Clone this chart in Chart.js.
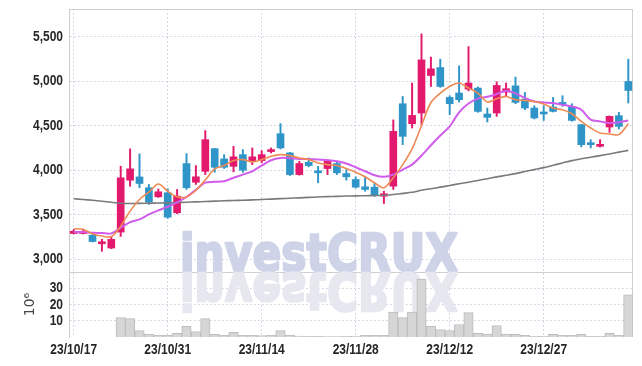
<!DOCTYPE html>
<html>
<head>
<meta charset="utf-8">
<script src="https://cdn.jsdelivr.net/npm/chart.js@4.4.0/dist/chart.umd.min.js"></script>
<style>
html, body { margin: 0; padding: 0; background: #fff; }
#wrap { width: 642px; height: 366px; }
</style>
</head>
<body>
<div id="wrap"><canvas id="myChart"></canvas></div>
<script>
const dates = [
	'23/10/17', '23/10/18', '23/10/19', '23/10/20', '23/10/23', '23/10/24', '23/10/25', '23/10/26', '23/10/27', '23/10/30',
	'23/10/31', '23/11/01', '23/11/02', '23/11/03', '23/11/06', '23/11/07', '23/11/08', '23/11/09', '23/11/10', '23/11/13',
	'23/11/14', '23/11/15', '23/11/16', '23/11/17', '23/11/20', '23/11/21', '23/11/22', '23/11/23', '23/11/24', '23/11/27',
	'23/11/28', '23/11/29', '23/11/30', '23/12/01', '23/12/04', '23/12/05', '23/12/06', '23/12/07', '23/12/08', '23/12/11',
	'23/12/12', '23/12/13', '23/12/14', '23/12/15', '23/12/18', '23/12/19', '23/12/20', '23/12/21', '23/12/22', '23/12/26',
	'23/12/27', '23/12/28', '24/01/02', '24/01/03', '24/01/04', '24/01/05', '24/01/08', '24/01/09', '24/01/10', '24/01/11'
]
const open = [
	3290, 3290, 3270, 3175, 3127, 3306, 3888, 3925, 3803, 3702,
	3747, 3523, 4075, 3865, 3988, 4242, 4127, 4044, 4175, 4108,
	4108, 4209, 4410, 4194, 3951, 4089, 3990, 4019, 4075, 3963,
	3896, 3814, 3810, 3709, 3821, 4746, 4522, 4642, 5063, 5152,
	4817, 4866, 4910, 4922, 4631, 4642, 4877, 4947, 4799, 4698,
	4642, 4709, 4761, 4709, 4511, 4306, 4268, 4485, 4612, 4996
]
const high = [
	3335, 3340, 3290, 3225, 3260, 4045, 4240, 4183, 3840, 3790,
	3792, 3784, 4186, 4052, 4444, 4245, 4175, 4268, 4231, 4250,
	4220, 4250, 4522, 4200, 4100, 4138, 4044, 4119, 4100, 4007,
	3926, 3926, 3851, 3765, 4565, 4828, 4978, 5530, 5269, 5246,
	4836, 5171, 5387, 4935, 4698, 4992, 4978, 5045, 4873, 4724,
	4724, 4817, 4836, 4746, 4515, 4343, 4343, 4610, 4649, 5246
]
const low = [
	3285, 3285, 3195, 3090, 3120, 3258, 3820, 3803, 3616, 3695,
	3459, 3512, 3784, 3840, 3951, 3977, 4020, 3982, 3977, 4063,
	4082, 4194, 4239, 3940, 3945, 4038, 3859, 3951, 3951, 3888,
	3800, 3765, 3705, 3627, 3784, 4287, 4474, 4511, 4940, 4930,
	4623, 4765, 4891, 4650, 4541, 4604, 4828, 4746, 4679, 4575,
	4559, 4653, 4716, 4550, 4261, 4250, 4260, 4425, 4463, 4754
]
const close = [
	3315, 3310, 3200, 3182, 3224, 3915, 4015, 3851, 3642, 3758,
	3473, 3709, 3803, 3926, 4343, 4033, 4033, 4150, 4000, 4150,
	4175, 4231, 4250, 3951, 4075, 4052, 3971, 4100, 3971, 3926,
	3810, 3784, 3716, 3736, 4436, 4380, 4615, 5238, 5138, 4940,
	4746, 4791, 4978, 4660, 4593, 4951, 4914, 4761, 4698, 4586,
	4631, 4660, 4735, 4559, 4287, 4287, 4290, 4604, 4492, 4895
]
// 거래량, 백만 주
const volume = [
	0, 0, 0, 0, 0, 11.9, 11.3, 4.0, 1.8, 1.0,
	1.0, 2.2, 6.5, 3.4, 11.3, 1.6, 1.0, 2.8, 1.0, 1.0,
	0.8, 1.0, 4.0, 1.2, 0.6, 0.4, 0.4, 0.3, 0.3, 0.4,
	0.6, 1.0, 1.0, 1.0, 15.4, 11.9, 15.4, 35.6, 6.7, 4.6,
	4.0, 7.7, 15.0, 2.2, 1.8, 7.1, 1.8, 1.6, 1.0, 0.4,
	0.4, 1.6, 1.0, 1.0, 1.6, 0.4, 0.4, 2.2, 1.0, 25.9
]
const ma5 = [
	3344, 3336, 3288, 3261, 3254, 3373, 3541, 3672, 3755, 3845,
	3765, 3702, 3700, 3775, 3890, 4015, 4052, 4108, 4119, 4094,
	4119, 4156, 4175, 4164, 4138, 4119, 4082, 4063, 4052, 4019,
	3977, 3926, 3859, 3803, 3915, 4063, 4240, 4500, 4760, 4866,
	4940, 4978, 4922, 4866, 4765, 4802, 4828, 4791, 4783, 4772,
	4743, 4698, 4679, 4634, 4548, 4474, 4418, 4407, 4399, 4522
]
const ma20 = [
	3306, 3306, 3299, 3295, 3291, 3355, 3418, 3448, 3504, 3550,
	3590, 3640, 3700, 3780, 3860, 3870, 3877, 3915, 3951, 3988,
	4052, 4112, 4138, 4134, 4127, 4127, 4119, 4112, 4100, 4075,
	4033, 3988, 3944, 3926, 3951, 4007, 4063, 4165, 4280, 4390,
	4492, 4650, 4748, 4804, 4825, 4856, 4893, 4862, 4810, 4772,
	4761, 4754, 4735, 4716, 4679, 4567, 4548, 4530, 4537, 4559
]
const ma60 = [
	3680, 3672, 3663, 3652, 3640, 3630, 3627, 3628, 3630, 3632,
	3634, 3637, 3641, 3645, 3649, 3653, 3657, 3660, 3663, 3667,
	3671, 3676, 3681, 3686, 3690, 3695, 3700, 3704, 3707, 3710,
	3712, 3714, 3716, 3720, 3728, 3740, 3752, 3775, 3792, 3810,
	3828, 3848, 3866, 3885, 3905, 3925, 3943, 3962, 3985, 4007,
	4029, 4055, 4082, 4108, 4128, 4146, 4164, 4183, 4203, 4223
]
const priceTicks = [3000, 3500, 4000, 4500, 5000, 5500]
const volumeTicks = [10, 20, 30]

const up = '#e2196c'
const down = '#2f95c8'
const gridColor = '#c9cbdf'
const candleColor = close.map((c, i) => c >= open[i] ? up : down)

// 좁은 굵은 글씨 (가로 압축)
function narrowText(ctx, text, x, y, align, baseline) {
	ctx.save()
	ctx.translate(x, y)
	ctx.scale(0.8, 1)
	ctx.font = 'bold 15px "Liberation Sans", Arial, sans-serif'
	ctx.fillStyle = '#262626'
	ctx.textAlign = align
	ctx.textBaseline = baseline
	ctx.fillText(text, 0, 0)
	ctx.restore()
}

// 워터마크 + 테두리 + 눈금 글씨
const decor = {
	id: 'decor',
	beforeDatasetsDraw(chart) {
		const ctx = chart.ctx
		const a = chart.chartArea
		const sep = chart.scales.y.bottom
		ctx.save()
		ctx.strokeStyle = '#cfcfcf'
		ctx.lineWidth = 1
		ctx.beginPath()
		ctx.moveTo(a.left, a.top + 0.5)
		ctx.lineTo(a.right, a.top + 0.5)
		ctx.moveTo(a.right - 0.5, a.top)
		ctx.lineTo(a.right - 0.5, a.bottom)
		ctx.moveTo(a.left, Math.round(sep) + 0.5)
		ctx.lineTo(a.right, Math.round(sep) + 0.5)
		ctx.stroke()

		ctx.font = 'bold 52px "DejaVu Sans"'
		const w = ctx.measureText('investCRUX').width
		ctx.translate(180, sep - 1)
		ctx.scale(278 / w, 1)
		ctx.textBaseline = 'alphabetic'
		ctx.lineJoin = 'round'
		ctx.lineWidth = 2.5
		ctx.fillStyle = ctx.strokeStyle = '#ced3e8'
		ctx.fillText('investCRUX', 0, 0)
		ctx.strokeText('investCRUX', 0, 0)
		ctx.translate(0, 2)
		ctx.scale(1, -1)
		ctx.fillStyle = ctx.strokeStyle = '#e6e7ef'
		ctx.fillText('investCRUX', 0, 0)
		ctx.strokeText('investCRUX', 0, 0)
		ctx.restore()
	},
	afterDraw(chart) {
		const ctx = chart.ctx
		const sy = chart.scales.y
		const sv = chart.scales.yv
		const sx = chart.scales.x
		sy.ticks.forEach(t => narrowText(ctx, t.value.toLocaleString('en-US'), sy.right - 6, sy.getPixelForValue(t.value), 'right', 'middle'))
		sv.ticks.forEach(t => narrowText(ctx, String(t.value), sv.right - 6, sv.getPixelForValue(t.value), 'right', 'middle'))
		sx.ticks.forEach((t, i) => {
			if (i % 10 === 0) narrowText(ctx, dates[i], sx.getPixelForTick(i), sx.top + 5, 'center', 'top')
		})
	}
}

function getChart() {
	const context = document.getElementById('myChart')
	const data = {
		labels: dates,
		datasets: [
			{
				type: 'line',
				label: 'MA5',
				data: ma5,
				borderColor: '#ee8a55',
				borderWidth: 1.6,
				pointRadius: 0,
				tension: 0.3,
				yAxisID: 'y',
				order: 0,
			},
			{
				type: 'line',
				label: 'MA20',
				data: ma20,
				borderColor: '#d05cec',
				borderWidth: 2,
				pointRadius: 0,
				tension: 0.3,
				yAxisID: 'y',
				order: 0,
			},
			{
				type: 'line',
				label: 'MA60',
				data: ma60,
				borderColor: '#7a7a7a',
				borderWidth: 1.6,
				pointRadius: 0,
				tension: 0.3,
				yAxisID: 'y',
				order: 0,
			},
			{
				type: 'bar',
				label: 'body',
				data: open.map((o, i) => [o, close[i]]),
				backgroundColor: candleColor,
				barThickness: 7,
				minBarLength: 2,
				grouped: false,
				yAxisID: 'y',
				order: 1,
			},
			{
				type: 'bar',
				label: 'wick',
				data: low.map((l, i) => [l, high[i]]),
				backgroundColor: candleColor,
				barThickness: 1.3,
				grouped: false,
				yAxisID: 'y',
				order: 2,
			},
			{
				type: 'bar',
				label: 'volume',
				data: volume,
				backgroundColor: '#d6d6d6',
				borderColor: '#bcbcbc',
				borderWidth: 1,
				barPercentage: 1,
				categoryPercentage: 1,
				grouped: false,
				yAxisID: 'yv',
				order: 3,
			}
		]
	}
	const config = {
		type: 'bar',
		data: data,
		plugins: [decor],
		options: {
			responsive: true,
			maintainAspectRatio: false,
			animation: false,
			layout: { padding: { top: 9, right: 9, left: 0, bottom: 0 } },
			plugins: { legend: { display: false }, tooltip: { enabled: false } },
			scales: {
				x: {
					type: 'category',
					offset: true,
					grid: {
						offset: false,
						drawTicks: false,
						color: c => c.index % 10 === 0 ? gridColor : 'transparent',
					},
					border: { display: false, dash: [1.5, 2.5] },
					ticks: { display: false, autoSkip: false, maxRotation: 0 },
					afterFit: s => { s.height = 29 },
				},
				yv: {
					stack: 'main',
					stackWeight: 65,
					position: 'left',
					min: 0,
					max: 40,
					afterBuildTicks: s => { s.ticks = volumeTicks.map(v => ({ value: v })) },
					ticks: { display: false },
					grid: { color: gridColor, drawTicks: false },
					border: { color: '#cccccc', dash: [1.5, 2.5] },
					title: {
						display: true,
						text: '10⁶',
						color: '#444',
						font: { family: 'DejaVu Sans', size: 14 },
						padding: { top: 22, bottom: 0 },
					},
					afterFit: s => { s.width = 69 },
				},
				y: {
					stack: 'main',
					stackWeight: 263,
					position: 'left',
					min: 2858,
					max: 5809,
					afterBuildTicks: s => { s.ticks = priceTicks.map(v => ({ value: v })) },
					ticks: { display: false },
					grid: { color: gridColor, drawTicks: false },
					border: { color: '#cccccc', dash: [1.5, 2.5] },
					afterFit: s => { s.width = 69 },
				}
			}
		}
	}
	const myChart = new Chart(context, config)
}
getChart()
</script>
</body>
</html>
